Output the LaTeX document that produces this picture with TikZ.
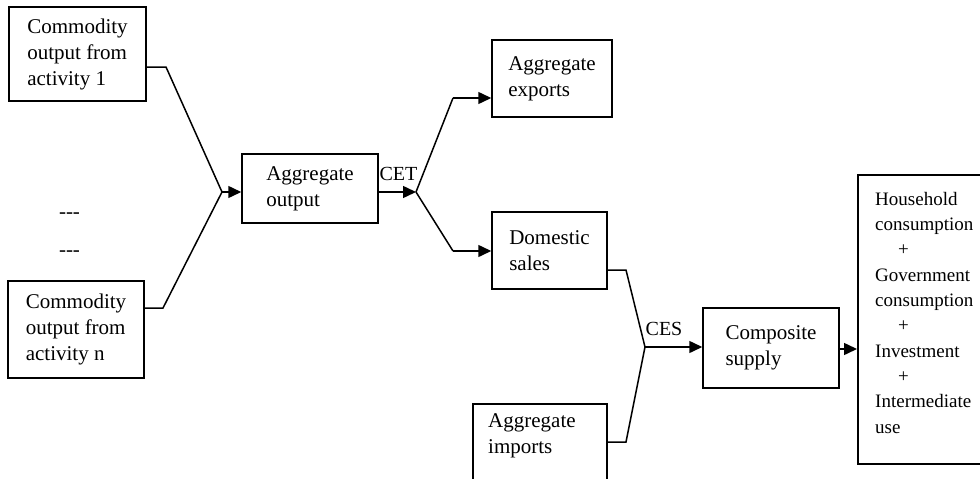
\documentclass[tikz,border=0pt]{standalone}
\usepackage{fontspec}
\setmainfont{Liberation Serif}
\usetikzlibrary{arrows.meta}
\begin{document}
\begin{tikzpicture}[x=1pt,y=-1pt,
  box/.style={draw, line width=1.5pt, inner sep=0pt, align=left, font=\fontsize{21}{26}\selectfont},
  frame/.style={draw, line width=1.5pt},
  conn/.style={line width=1.5pt},
  arr/.style={line width=1.5pt, -{Triangle[length=13pt,width=12pt]}},
  lbl/.style={inner sep=0pt, font=\fontsize{20}{24}\selectfont},
  txt/.style={inner sep=0pt, align=left, font=\fontsize{21}{26}\selectfont}]
\useasboundingbox (0,0) rectangle (980,479);
\clip (0,0) rectangle (980,479);

% boxes
\node[box, minimum width=137pt, minimum height=94pt] (c1) at (77.5,54) {Commodity\\output from\\activity 1};
\node[box, minimum width=136pt, minimum height=97pt] (cn) at (76,329.5) {Commodity\\output from\\activity n};
\node[box, minimum width=136pt, minimum height=69pt] (ao) at (310,188.5) {Aggregate\\output};
\node[box, minimum width=120pt, minimum height=77pt] (ex) at (552,78.5) {Aggregate\\exports};
\node[box, minimum width=115pt, minimum height=77pt] (ds) at (549.5,250.5) {Domestic\\sales};
\node[box, minimum width=136pt, minimum height=80pt] (cs) at (771,348) {Composite\\supply};
\node[box, minimum width=134pt, minimum height=80pt] (im) at (540,444) {};
\node[txt, anchor=north west] (imt) at (488,413) {Aggregate\\imports};
\node[frame, minimum width=140pt, minimum height=289pt, inner sep=0pt, anchor=north west] (fu) at (857,174) {};
\node[txt, anchor=north west, font=\fontsize{19}{25.3}\selectfont] (fut) at (875,192)
  {Household\\consumption\\\hspace*{23pt}+\\Government\\consumption\\\hspace*{23pt}+\\Investment\\\hspace*{23pt}+\\Intermediate\\use};

% dashes
\node[txt] (d1) at (69.5,216) {-{}-{}-};
\node[txt] (d2) at (69.5,254) {-{}-{}-};

% junctions and bends
\coordinate (j1) at (222,192);
\coordinate (j2) at (416,192);
\coordinate (j3) at (645,347);
\coordinate (b1) at (166,67);
\coordinate (bn) at (163,308);
\coordinate (bx) at (453,98);
\coordinate (bd) at (453,251);
\coordinate (bs) at (626,270);
\coordinate (bi) at (626,442);

\draw[conn] (c1.east |- b1) -- (b1) -- (j1);
\draw[conn] (cn.east |- bn) -- (bn) -- (j1);
\draw[arr] (j1) -- (ao.west |- j1);
\draw[arr] (ao.east |- j2) -- (j2);
\draw[conn] (j2) -- (bx);
\draw[arr] (bx) -- (ex.west |- bx);
\draw[conn] (j2) -- (bd);
\draw[arr] (bd) -- (ds.west |- bd);
\draw[conn] (ds.east |- bs) -- (bs) -- (j3);
\draw[conn] (im.east |- bi) -- (bi) -- (j3);
\draw[arr] (j3) -- (cs.west |- j3);
\draw[arr] (cs.east |- 0,349) -- (fu.west |- 0,349);

% labels
\node[lbl] (cet) at (398.5,174) {CET};
\node[lbl] (ces) at (664,328.5) {CES};
\end{tikzpicture}
\end{document}
